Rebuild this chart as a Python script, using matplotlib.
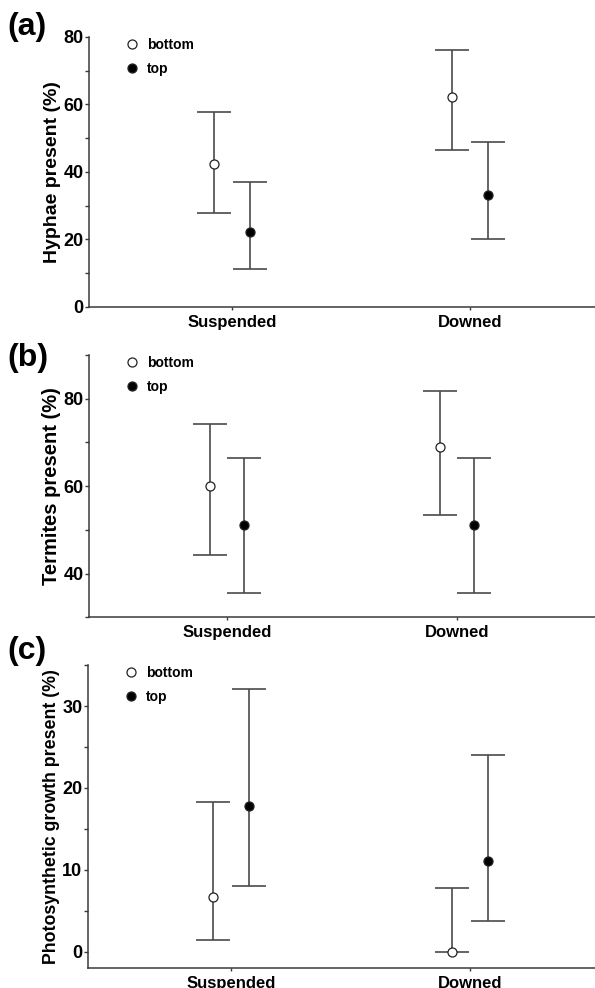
import numpy as np
import matplotlib.pyplot as plt
import matplotlib as mpl
from matplotlib.lines import Line2D
from matplotlib.ticker import MultipleLocator
from matplotlib.transforms import offset_copy

mpl.rcParams['font.family'] = ['Liberation Sans', 'DejaVu Sans']
mpl.rcParams['font.weight'] = 'bold'

# Data
categories = ['Suspended', 'Downed']
positions = ['bottom', 'top']

hyphae_mean = {'bottom': [42.3, 62.2], 'top': [22.3, 33.2]}
hyphae_low = {'bottom': [27.8, 46.4], 'top': [11.2, 20.0]}
hyphae_high = {'bottom': [57.8, 76.1], 'top': [37.0, 49.0]}

termites_mean = {'bottom': [60.0, 68.9], 'top': [51.1, 51.1]}
termites_low = {'bottom': [44.2, 53.4], 'top': [35.5, 35.5]}
termites_high = {'bottom': [74.2, 81.8], 'top': [66.4, 66.4]}

photo_mean = {'bottom': [6.7, 0.0], 'top': [17.8, 11.1]}
photo_low = {'bottom': [1.5, 0.0], 'top': [8.0, 3.8]}
photo_high = {'bottom': [18.3, 7.85], 'top': [32.1, 24.0]}

# tag, ylabel, data, ylim, major/minor step, axes rect, ylabel size, tag y (px)
panels = [
    ('(a)', 'Hyphae present (%)', hyphae_mean, hyphae_low, hyphae_high,
     (0, 80), 20, 10, [0.1496, 0.6893, 0.880, 0.2733], 14, 27),
    ('(b)', 'Termites present (%)', termites_mean, termites_low, termites_high,
     (30, 90), 20, 10, [0.1496, 0.3752, 0.8504, 0.2655], 14.5, 358),
    ('(c)', 'Photosynthetic growth present (%)', photo_mean, photo_low, photo_high,
     (-2, 35), 10, 5, [0.1479, 0.0199, 0.8837, 0.3070], 12.8, 651),
]

dodge = {'bottom': -0.075, 'top': 0.075}
face = {'bottom': 'white', 'top': 'black'}
line_col = '#3a3a3a'
err_col = '#4a4a4a'

fig = plt.figure(figsize=(5.95, 9.88), dpi=100)

for tag, ylab, mean, low, high, ylim, major, minor, rect, ylab_size, tag_y in panels:
    ax = fig.add_axes(rect)
    x = np.arange(1, len(categories) + 1)
    for pos in positions:
        m = np.array(mean[pos])
        lo = np.array(low[pos])
        hi = np.array(high[pos])
        ax.errorbar(x + dodge[pos], m, yerr=[m - lo, hi - m], fmt='none',
                    ecolor=err_col, elinewidth=1.2, capsize=12, capthick=1.2, zorder=2)
        ax.plot(x + dodge[pos], m, 'o', ms=6.5, mfc=face[pos], mec='#222222',
                mew=0.9, zorder=3)

    ax.set_xlim(0.4, 2.6)
    ax.set_ylim(*ylim)
    ax.set_xticks(x)
    ax.set_xticklabels(categories, fontsize=12, fontweight='bold')
    ax.yaxis.set_major_locator(MultipleLocator(major))
    ax.yaxis.set_minor_locator(MultipleLocator(minor))
    ax.tick_params(axis='y', which='both', length=3, width=1, color=line_col,
                   labelsize=13, pad=1)
    ax.tick_params(axis='x', length=2.5, width=1, color=line_col, pad=3)
    for lab in ax.get_yticklabels():
        lab.set_fontweight('bold')
    ax.set_ylabel(ylab, fontsize=ylab_size, fontweight='bold', labelpad=2)

    for side in ['top', 'right']:
        ax.spines[side].set_visible(False)
    for side in ['left', 'bottom']:
        ax.spines[side].set_color(line_col)
        ax.spines[side].set_linewidth(1.1)

    # legend sits just inside the top-left corner
    handles = [Line2D([], [], ls='none', marker='o', ms=6.5, mfc=face[p],
                      mec='#222222', mew=0.9) for p in positions]
    anchor = offset_copy(ax.transAxes, fig=fig, x=30, y=5, units='dots')
    ax.legend(handles, positions, loc='upper left', bbox_to_anchor=(0, 1),
              bbox_transform=anchor, borderaxespad=0, borderpad=0.4,
              frameon=False, handlelength=1.0, handletextpad=0.6, labelspacing=0.75,
              prop={'size': 10, 'weight': 'bold'})

    fig.text(0.012, 1 - tag_y / 988, tag, fontsize=23, fontweight='bold',
             va='center', ha='left')

fig.savefig('out.png', dpi=100)
